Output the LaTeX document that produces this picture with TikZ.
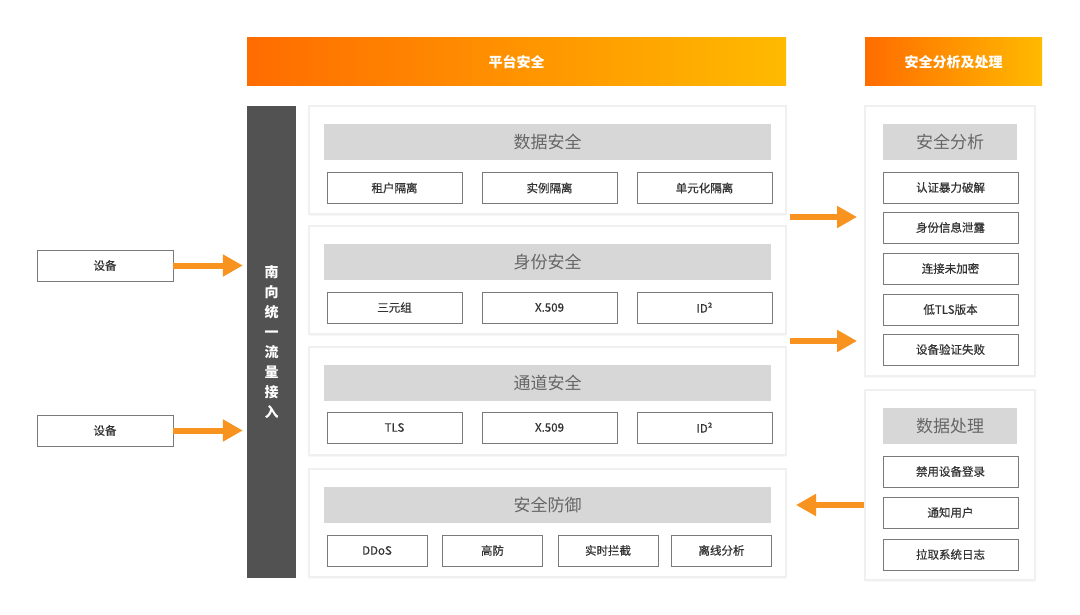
\documentclass[tikz,border=0pt]{standalone}
\usepackage{fontspec}
\setmainfont{Noto Sans CJK SC}
\newfontfamily\itemfont[FakeBold=0.5]{Noto Sans CJK SC}
\usetikzlibrary{shadows,arrows.meta}
\definecolor{bandL}{HTML}{FF6C00}
\definecolor{bandR}{HTML}{FFBA00}
\definecolor{barGray}{HTML}{525252}
\definecolor{hdrGray}{HTML}{D7D7D7}
\definecolor{hdrText}{HTML}{666666}
\definecolor{boxLine}{HTML}{7A7A7A}
\definecolor{boxText}{HTML}{333333}
\definecolor{edgeGray}{HTML}{F0F0F0}
\definecolor{flowOr}{HTML}{F7931E}
\begin{document}
\begin{tikzpicture}[
    x=1pt, y=-1pt,
    band/.style={minimum height=48, inner sep=0pt, left color=bandL, right color=bandR,
                 text=white, font=\fontsize{14}{16}\selectfont\bfseries},
    panel/.style={fill=white, draw=edgeGray, line width=2pt, inner sep=0pt,
                  drop shadow={shadow xshift=0pt, shadow yshift=-2pt, opacity=0.06}},
    hdr/.style={fill=hdrGray, minimum height=36, inner sep=0pt, text=hdrText,
                font=\fontsize{17}{19}\selectfont},
    item/.style={draw=boxLine, line width=0.9pt, fill=white, minimum height=31,
                 inner sep=0pt, text=boxText, font=\itemfont\fontsize{11.5}{13}\selectfont},
    flow/.style={draw=flowOr, line width=6pt, -{Triangle[length=20pt, width=21pt]}}
  ]
  \useasboundingbox (0,0) rectangle (1080,615);
  % banners
  \node[band, minimum width=539] (plat) at (516.5,62) {平台安全};
  \node[band, minimum width=177] (anahd) at (953.5,62) {安全分析及处理};
  % access bar
  \node[fill=barGray, minimum width=49, minimum height=472, inner sep=0pt] (bar) at (271.5,342) {};
  \node[text=white, align=center, font=\fontsize{14}{20}\selectfont\bfseries] (barlbl) at (271.5,342)
    {南\\向\\统\\一\\流\\量\\接\\入};
  % devices
  \node[item, minimum width=136] (dev1) at (105,265.5) {设备};
  \node[item, minimum width=136] (dev2) at (105,430.5) {设备};
  % platform panels
  \foreach \n/\y/\t in {p1/160/数据安全, p2/280/身份安全, p3/401/通道安全, p4/522.5/安全防御} {
    \node[panel, minimum width=477, minimum height=108] (\n) at (547.5,\y) {};
    \node[hdr, minimum width=447] (\n h) at (547.5,\y-18) {\t};
  }
  \foreach \n/\x/\t in {a/394.5/租户隔离, b/549.5/实例隔离, c/704.5/单元化隔离} {
    \node[item, minimum width=135] (p1\n) at (\x,188) {\t};
  }
  \foreach \n/\x/\t in {a/394.5/三元组, b/549.5/X.509, c/704.5/ID²} {
    \node[item, minimum width=135] (p2\n) at (\x,307.5) {\t};
  }
  \foreach \n/\x/\t in {a/394.5/TLS, b/549.5/X.509, c/704.5/ID²} {
    \node[item, minimum width=135] (p3\n) at (\x,427.5) {\t};
  }
  \foreach \n/\x/\t in {a/377/DDoS, b/492.5/高防, c/608/实时拦截, d/721.5/离线分析} {
    \node[item, minimum width=100] (p4\n) at (\x,550.5) {\t};
  }
  % analysis side
  \node[panel, minimum width=170, minimum height=270] (ana) at (950,241) {};
  \node[hdr, minimum width=134] (anah) at (950,142) {安全分析};
  \foreach \n/\y/\t in {a/187.5/认证暴力破解, b/227.5/身份信息泄露, c/268.5/连接未加密,
                        d/309.5/低TLS版本, e/349.5/设备验证失败} {
    \node[item, minimum width=135] (ana\n) at (950.5,\y) {\t};
  }
  \node[panel, minimum width=170, minimum height=190] (proc) at (950,485) {};
  \node[hdr, minimum width=134] (proch) at (950,426) {数据处理};
  \foreach \n/\y/\t in {a/471.5/禁用设备登录, b/512.5/通知用户, c/554.5/拉取系统日志} {
    \node[item, minimum width=135] (proc\n) at (950.5,\y) {\t};
  }
  % arrows
  \draw[flow, shorten >=4pt] (dev1.east) -- (dev1.east -| bar.west);
  \draw[flow, shorten >=4pt] (dev2.east) -- (dev2.east -| bar.west);
  \coordinate (out1) at (790,217);
  \coordinate (out2) at (790,341);
  \draw[flow, shorten >=7pt] (out1) -- (out1 -| ana.west);
  \draw[flow, shorten >=7pt] (out2) -- (out2 -| ana.west);
  \coordinate (back) at (proc.west |- 0,505);
  \draw[flow, shorten >=9pt] (back) -- (back -| p4.east);
\end{tikzpicture}
\end{document}
